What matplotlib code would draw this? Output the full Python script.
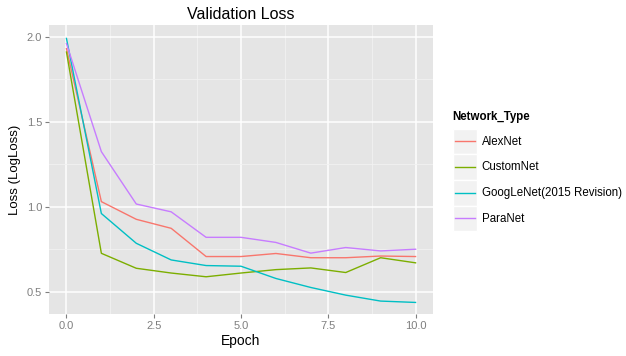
import matplotlib
matplotlib.use("Agg")
import matplotlib.pyplot as plt
from matplotlib.lines import Line2D
from matplotlib.patches import Rectangle
from matplotlib.legend_handler import HandlerBase

plt.rcParams['font.family'] = ['Liberation Sans', 'DejaVu Sans']

epochs = [0, 1, 2, 3, 4, 5, 6, 7, 8, 9, 10]
alexnet = [1.93, 1.03, 0.926, 0.873, 0.707, 0.707, 0.725, 0.70, 0.70, 0.71, 0.707]
customnet = [1.91, 0.726, 0.638, 0.61, 0.588, 0.61, 0.63, 0.64, 0.613, 0.70, 0.67]
googlenet = [1.99, 0.96, 0.785, 0.687, 0.654, 0.65, 0.578, 0.525, 0.48, 0.445, 0.437]
paranet = [1.96, 1.324, 1.016, 0.97, 0.82, 0.82, 0.79, 0.727, 0.76, 0.74, 0.75]

series_names = ["AlexNet", "CustomNet", "GoogLeNet(2015 Revision)", "ParaNet"]
series_values = [alexnet, customnet, googlenet, paranet]
colors = ["#F8766D", "#7CAE00", "#00BFC4", "#C77CFF"]


class KeyHandler(HandlerBase):
    def create_artists(self, legend, orig_handle, xdescent, ydescent,
                       width, height, fontsize, trans):
        r = Rectangle((-xdescent, -ydescent), width, height,
                      facecolor="#F2F2F2", edgecolor="white", lw=1.0,
                      transform=trans)
        y = -ydescent + height / 2
        l = Line2D([-xdescent + width * 0.1, -xdescent + width * 0.9], [y, y],
                   color=orig_handle.get_color(), lw=1.0, transform=trans)
        return [r, l]


fig = plt.figure(figsize=(6.26, 3.56), dpi=100)
ax = fig.add_axes([49/626, 42/356, 384/626, 289/356])
ax.set_facecolor("#E5E5E5")

for name, vals, c in zip(series_names, series_values, colors):
    ax.plot(epochs, vals, color=c, lw=1.0, label=name, zorder=3)

ax.set_xlim(-0.5, 10.5)
ax.set_ylim(0.369, 2.069)
ax.set_xticks([0, 2.5, 5, 7.5, 10])
ax.set_xticklabels(["0.0", "2.5", "5.0", "7.5", "10.0"])
ax.set_yticks([0.5, 1.0, 1.5, 2.0])
ax.set_yticklabels(["0.5", "1.0", "1.5", "2.0"])
ax.set_xticks([1.25, 3.75, 6.25, 8.75], minor=True)
ax.set_yticks([0.75, 1.25, 1.75], minor=True)
ax.grid(which="major", color="white", lw=1.1, zorder=0)
ax.grid(which="minor", color="#F2F2F2", lw=0.6, zorder=0)
ax.set_axisbelow(True)
for s in ax.spines.values():
    s.set_visible(False)
ax.tick_params(which="major", length=3, color="#7F7F7F", labelsize=8,
               labelcolor="#7F7F7F", pad=2)
ax.tick_params(which="minor", length=0)

ax.set_xlabel("Epoch", fontsize=10, color="black", labelpad=2)
ax.set_ylabel("Loss (LogLoss)", fontsize=9.5, color="black", labelpad=4)
ax.set_title("Validation Loss", fontsize=11.5, color="black", pad=4)

fig.text(452/626, 1 - 117/356, "Network_Type", fontsize=8.3, fontweight="bold",
         ha="left", va="center")
handles = [Line2D([0], [0], color=c, lw=1.0) for c in colors]
leg = fig.legend(handles, series_names, loc="upper left",
                 bbox_to_anchor=(453/626, 1 - 128.5/356),
                 frameon=False, fontsize=8.3,
                 handler_map={Line2D: KeyHandler()},
                 handlelength=2.1, handleheight=3.05, handletextpad=0.4,
                 labelspacing=0.0, borderaxespad=0, borderpad=0)

fig.savefig("out.png", dpi=100)
